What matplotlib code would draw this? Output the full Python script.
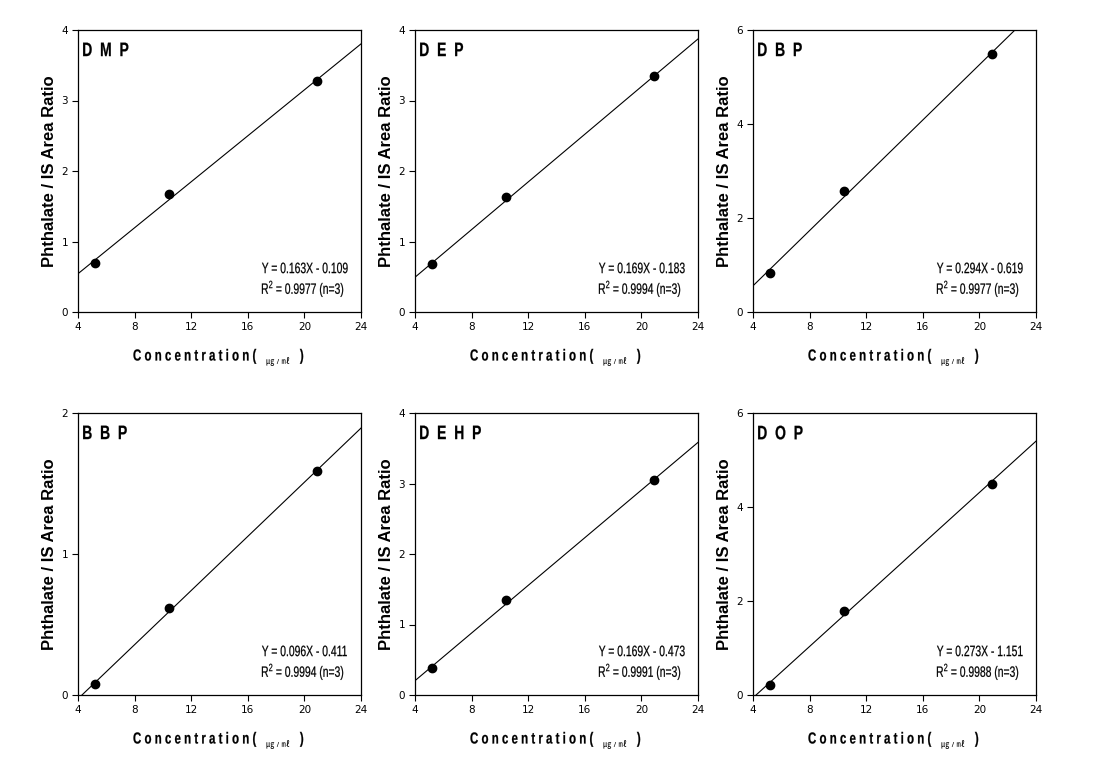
import numpy as np
import matplotlib
matplotlib.use("Agg")
from matplotlib import pyplot as plt
from matplotlib.textpath import TextPath
from matplotlib.patches import PathPatch
from matplotlib.font_manager import FontProperties
from matplotlib.transforms import Affine2D, ScaledTranslation

# calibration data
conc = [5.2, 10.4, 20.9]
names = ["DMP", "DEP", "DBP", "BBP", "DEHP", "DOP"]
ratios = [
    [0.70, 1.67, 3.28],
    [0.68, 1.63, 3.35],
    [0.82, 2.58, 5.48],
    [0.08, 0.62, 1.59],
    [0.38, 1.35, 3.05],
    [0.22, 1.78, 4.50],
]
slopes = [0.163, 0.169, 0.294, 0.096, 0.169, 0.273]
intercepts = [-0.109, -0.183, -0.619, -0.411, -0.473, -1.151]
r2 = ["0.9977", "0.9994", "0.9977", "0.9994", "0.9991", "0.9988"]
ymax = [4, 4, 6, 2, 4, 6]
ystep = [1, 1, 2, 1, 1, 2]
xticks = [4, 8, 12, 16, 20, 24]

sans = ["Liberation Sans", "DejaVu Sans"]
cjk = ["Liberation Sans", "Noto Sans CJK KR", "DejaVu Sans"]

fig = plt.figure(figsize=(11.10, 7.63), dpi=100)


# condensed text: glyph outlines squeezed horizontally by sx
def ctext(ax, x, y, s, size, sx, ha="left", va="baseline", weight="normal"):
    fp = FontProperties(family=sans, weight=weight, size=size)
    tp = TextPath((0, 0), s, size=size, prop=fp)
    bb = tp.get_extents()
    dx = {"left": -bb.x0, "right": -bb.x1, "center": -(bb.x0 + bb.x1) / 2}[ha] * sx
    dy = {"baseline": 0, "top": -bb.y1, "center": -(bb.y0 + bb.y1) / 2}[va]
    tr = (Affine2D().scale(sx, 1).translate(dx, dy).scale(fig.dpi / 72)
          + ScaledTranslation(x, y, ax.transAxes))
    fig.add_artist(PathPatch(tp, transform=tr, fc="black", ec="black", lw=0.15))


lefts = [78, 415, 753]
bottoms = [312, 695]
W, H = 283, 282

for i, name in enumerate(names):
    row, col = divmod(i, 3)
    ax = fig.add_axes([lefts[col] / 1110, 1 - bottoms[row] / 763, W / 1110, H / 763])

    xl = np.array([4, 24])
    ax.plot(xl, slopes[i] * xl + intercepts[i], color="black", lw=0.8)
    ax.plot(conc, ratios[i], "o", color="black", ms=6)

    ax.set_xlim(4, 24)
    ax.set_ylim(0, ymax[i])
    ax.set_xticks(xticks)
    ax.set_yticks(np.arange(0, ymax[i] + 0.1, ystep[i]))
    ax.tick_params(direction="out", length=4, width=0.8, labelsize=7.5,
                   top=False, right=False, pad=3)
    for s in ax.spines.values():
        s.set_linewidth(0.9)

    ctext(ax, 0.018, 0.955, "  ".join(name), 14, 0.72, "left", "top", "bold")
    ctext(ax, 0.65, 0.138, "Y = %.3fX - %.3f" % (slopes[i], -intercepts[i]), 10.8, 0.69)
    ctext(ax, 0.65, 0.064, r"R$^\mathregular{2}$ = %s (n=3)" % r2[i], 10.8, 0.69)

    ax.text(-0.102, 0.5, "Phthalate / IS Area Ratio", transform=ax.transAxes,
            rotation=90, ha="center", va="center", fontsize=12,
            fontweight="bold", family=sans)

    ctext(ax, 0.63, -0.172, " ".join("Concentration("), 11.5, 0.72, "right",
          weight="bold")
    ax.text(0.707, -0.177, "㎍ / ㎖", transform=ax.transAxes, ha="center",
            va="center", fontsize=6, family=cjk)
    ctext(ax, 0.784, -0.172, ")", 11.5, 0.72, "left", weight="bold")

fig.savefig("out.png", dpi=100)
